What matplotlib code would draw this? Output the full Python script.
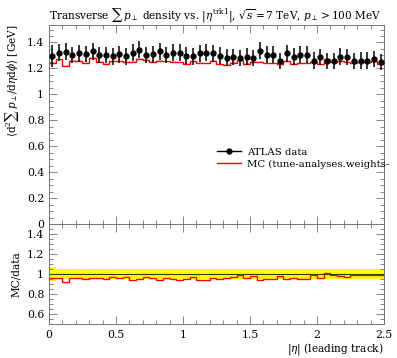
#!/usr/bin/env python
# -*- coding: utf-8 -*-
"""
Transverse sum pT density vs |eta| of leading track, data vs MC with ratio panel
"""
import numpy as np
import matplotlib
matplotlib.use('Agg')
import matplotlib.pyplot as plt
from matplotlib.ticker import MultipleLocator, FuncFormatter
from matplotlib.lines import Line2D

# bin edges in |eta|
eta_edges = np.linspace(0.0, 2.5, 51)

# ATLAS data (GeV)
data_vals = [1.297, 1.322, 1.330, 1.303, 1.318, 1.310, 1.332, 1.303, 1.303, 1.293,
             1.310, 1.293, 1.322, 1.345, 1.303, 1.310, 1.332, 1.303, 1.322, 1.322,
             1.298, 1.293, 1.318, 1.322, 1.317, 1.299, 1.284, 1.286, 1.281, 1.291,
             1.281, 1.338, 1.306, 1.306, 1.256, 1.317, 1.291, 1.306, 1.306, 1.261,
             1.286, 1.256, 1.256, 1.291, 1.286, 1.256, 1.261, 1.261, 1.273, 1.248]
data_errs = [0.085, 0.066, 0.065, 0.064, 0.065, 0.064, 0.065, 0.064, 0.065, 0.064,
             0.065, 0.064, 0.065, 0.066, 0.064, 0.065, 0.065, 0.064, 0.065, 0.065,
             0.064, 0.064, 0.065, 0.065, 0.064, 0.064, 0.064, 0.063, 0.063, 0.064,
             0.063, 0.066, 0.064, 0.064, 0.062, 0.065, 0.063, 0.064, 0.064, 0.062,
             0.063, 0.062, 0.062, 0.063, 0.063, 0.062, 0.062, 0.062, 0.063, 0.062]

# MC prediction (GeV)
mc_vals = [1.245, 1.269, 1.221, 1.257, 1.261, 1.242, 1.279, 1.251, 1.235, 1.254,
           1.254, 1.250, 1.249, 1.271, 1.264, 1.251, 1.256, 1.255, 1.253, 1.247,
           1.233, 1.254, 1.243, 1.239, 1.260, 1.231, 1.229, 1.244, 1.268, 1.235,
           1.249, 1.251, 1.238, 1.238, 1.235, 1.254, 1.235, 1.238, 1.238, 1.248,
           1.231, 1.269, 1.247, 1.259, 1.247, 1.241, 1.248, 1.246, 1.254, 1.233]
mc_errs = [0.006] * 50

labels = ['ATLAS data', 'MC (tune-analyses.weights-']


def fmt_g(v, pos):
    return '%g' % round(v, 3)


def style_axis(ax):
    """rivet-like ticks: inward, on all sides"""
    ax.tick_params(which='both', direction='in', top=True, right=True,
                   width=0.6, colors='0.45', labelcolor='black', labelsize=7.8)
    ax.tick_params(which='major', length=6)
    ax.tick_params(which='minor', length=3)
    for sp in ax.spines.values():
        sp.set_color('0.45')
        sp.set_linewidth(0.7)


def draw():
    plt.rcParams['font.family'] = ['DejaVu Serif']
    plt.rcParams['mathtext.fontset'] = 'dejavuserif'

    fig = plt.figure(figsize=(3.97, 3.58), dpi=100)
    ax = fig.add_axes([0.1234, 0.3743, 0.8438, 0.5559])
    rax = fig.add_axes([0.1234, 0.0950, 0.8438, 0.2793], sharex=ax)

    centers = 0.5 * (eta_edges[1:] + eta_edges[:-1])
    data = np.array(data_vals)
    derr = np.array(data_errs)
    mc = np.array(mc_vals)
    merr = np.array(mc_errs)

    # main panel
    ax.fill_between(eta_edges, np.append(mc - merr, mc[-1] - merr[-1]),
                    np.append(mc + merr, mc[-1] + merr[-1]),
                    step='post', color='#ff8080', alpha=0.4, lw=0)
    ax.stairs(mc, eta_edges, color='red', lw=1.0, baseline=None)
    ax.errorbar(centers, data, yerr=derr, fmt='o', color='black', ms=3.5,
                elinewidth=1.1, capsize=0, zorder=5)

    ax.set_xlim(0, 2.5)
    ax.set_ylim(0, 1.535)
    ax.yaxis.set_major_locator(MultipleLocator(0.2))
    ax.yaxis.set_minor_locator(MultipleLocator(0.05))
    ax.xaxis.set_major_locator(MultipleLocator(0.5))
    ax.xaxis.set_minor_locator(MultipleLocator(0.1))
    ax.yaxis.set_major_formatter(FuncFormatter(fmt_g))
    ax.tick_params(labelbottom=False)
    style_axis(ax)

    ax.set_title(r'Transverse $\sum\, p_\perp$ density vs. $|\eta^{\rm trk1}|$, '
                 r'$\sqrt{s} = 7$ TeV, $p_\perp > 100$ MeV',
                 loc='left', fontsize=7.6, pad=5, x=0.0)
    ax.set_ylabel(r'$\langle \mathrm{d}^2 \sum\, p_\perp / \mathrm{d}\eta\mathrm{d}\phi \rangle$ [GeV]',
                  fontsize=7.6, loc='top')

    # legend: data first, then MC
    h_data = Line2D([0], [0], color='black', marker='o', ms=3.5, lw=1.0)
    h_mc = Line2D([0], [0], color='red', lw=1.0)
    ax.legend([h_data, h_mc], labels, loc='upper left', bbox_to_anchor=(0.48, 0.42),
              frameon=False, fontsize=7.3, handlelength=2.4, handletextpad=0.6,
              labelspacing=0.3, borderpad=0.2)

    # ratio panel
    rel = derr / data
    ratio = mc / data
    rax.fill_between(eta_edges, np.append(1 - rel, 1 - rel[-1]), np.append(1 + rel, 1 + rel[-1]),
                     step='post', color='#ffff00', lw=0)
    rax.axhline(1.0, color='#3a3a00', lw=0.8)
    rax.stairs(ratio, eta_edges, color='red', lw=1.0, baseline=None)

    rax.set_ylim(0.5, 1.5)
    rax.yaxis.set_minor_locator(MultipleLocator(0.05))
    rax.set_yticks([0.6, 0.8, 1.0, 1.2, 1.4])
    rax.yaxis.set_major_formatter(FuncFormatter(fmt_g))
    rax.xaxis.set_major_formatter(FuncFormatter(fmt_g))
    style_axis(rax)
    rax.tick_params(axis='x', pad=4)
    rax.set_ylabel('MC/data', fontsize=7.6)
    rax.set_xlabel(r'$|\eta|$ (leading track)', fontsize=7.6, loc='right', labelpad=1)

    fig.align_ylabels([ax, rax])
    fig.savefig('out.png', dpi=100)
    plt.close(fig)


if __name__ == '__main__':
    draw()
